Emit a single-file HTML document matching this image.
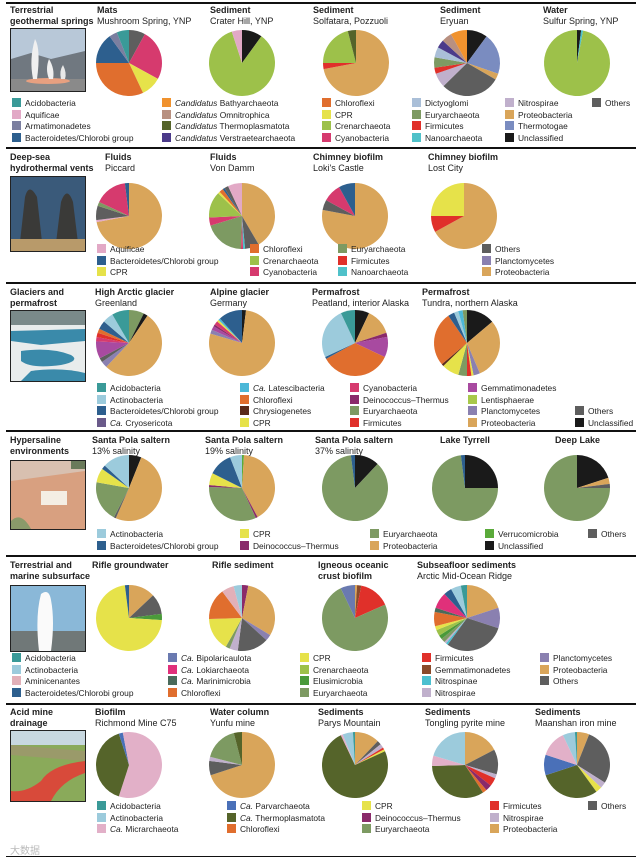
<!DOCTYPE html>
<html><head><meta charset="utf-8">
<style>
body{margin:0;background:#fff;}
#root{position:relative;width:642px;height:862px;overflow:hidden;background:#fff;font-family:"Liberation Sans","Noto Sans CJK SC",sans-serif;color:#222;}
.sec-title{position:absolute;font-weight:bold;font-size:9px;line-height:11px;}
.pie-title{position:absolute;font-size:9px;line-height:11px;white-space:nowrap;}
.pie-title b{font-weight:bold;}
.rule{position:absolute;left:6px;width:630px;height:2px;background:#111;}
.leg{position:absolute;font-size:8.4px;line-height:10px;white-space:nowrap;}
.sw{display:inline-block;width:9px;height:9px;vertical-align:-1px;margin-right:4px;}
.illu{position:absolute;border:1px solid #222;}
</style></head>
<body>
<div id="root">
<svg id="pies" width="642" height="862" style="position:absolute;left:0;top:0"></svg>

<div class="rule" style="top:2px"></div>
<div class="rule" style="top:147px"></div>
<div class="rule" style="top:282px"></div>
<div class="rule" style="top:430px"></div>
<div class="rule" style="top:555px"></div>
<div class="rule" style="top:703px"></div>
<div class="rule" style="top:856px;height:1px"></div>

<div class="sec-title" style="left:10px;top:5px">Terrestrial<br>geothermal springs</div>
<div class="sec-title" style="left:10px;top:152px">Deep-sea<br>hydrothermal vents</div>
<div class="sec-title" style="left:10px;top:287px">Glaciers and<br>permafrost</div>
<div class="sec-title" style="left:10px;top:435px">Hypersaline<br>environments</div>
<div class="sec-title" style="left:10px;top:560px">Terrestrial and<br>marine subsurface</div>
<div class="sec-title" style="left:10px;top:707px">Acid mine<br>drainage</div>

<svg class="illu" style="left:10px;top:28px" width="74" height="62"><rect width="74" height="62" fill="#b8c8d8"/><path d="M0 30 L20 24 L40 30 L74 22 L74 62 L0 62Z" fill="#707880"/><rect x="0" y="50" width="74" height="12" fill="#8a8a8a"/><ellipse cx="37" cy="52" rx="22" ry="3" fill="#e8a080"/><path d="M22 50 Q18 30 24 10 Q30 20 26 50Z" fill="#f0f0f0"/><path d="M38 50 Q34 40 38 30 Q44 40 42 50Z" fill="#f0f0f0"/><path d="M50 50 Q48 42 52 36 Q56 44 54 50Z" fill="#e8e8e8"/></svg>
<svg class="illu" style="left:10px;top:176px" width="74" height="74"><rect width="74" height="74" fill="#3a5a7a"/><path d="M8 74 L14 20 Q18 5 26 20 L32 74Z" fill="#3a3a38"/><path d="M44 74 L50 25 Q56 8 62 25 L68 74Z" fill="#3a3a38"/><rect y="62" width="74" height="12" fill="#b89a6a"/></svg>
<svg class="illu" style="left:10px;top:310px" width="74" height="70"><rect width="74" height="70" fill="#e8ecec"/><rect width="74" height="14" fill="#7a8a8a"/><path d="M0 20 L74 18 L74 30 L30 34 L0 30Z" fill="#3a8aaa"/><path d="M10 40 Q40 36 60 44 Q70 50 50 54 Q20 58 10 50Z" fill="#3a8aaa"/><path d="M20 60 Q50 56 74 62 L74 70 L10 70Z" fill="#3a8aaa"/></svg>
<svg class="illu" style="left:10px;top:460px" width="74" height="68"><rect width="74" height="68" fill="#d8c0b0"/><path d="M0 20 L74 10 L74 68 L0 68Z" fill="#d8a080"/><rect x="30" y="30" width="26" height="14" fill="#f4eee4"/><path d="M0 60 Q10 50 20 68 L0 68Z" fill="#8a9a6a"/><rect x="60" y="0" width="14" height="8" fill="#6a7a5a"/></svg>
<svg class="illu" style="left:10px;top:585px" width="74" height="65"><rect width="74" height="65" fill="#8ab8d8"/><rect y="45" width="74" height="20" fill="#707878"/><path d="M28 65 Q24 30 30 8 Q38 2 40 14 Q44 35 40 65Z" fill="#fafafa"/></svg>
<svg class="illu" style="left:10px;top:730px" width="74" height="70"><rect width="74" height="70" fill="#8aaa5a"/><rect width="74" height="14" fill="#c8d8e0"/><path d="M0 14 L74 20 L74 30 L0 24Z" fill="#9a9a6a"/><path d="M74 30 Q40 34 30 50 Q15 62 0 60 L0 70 L40 70 Q50 50 74 42Z" fill="#d84a3a"/></svg>

<div id="texts"></div>
<div style="position:absolute;left:10px;top:842px;font-size:10px;color:#bbb">大数据</div>
</div>
<script>
const colors={Acido:"#3a9a98",Aqui:"#e2a9c6",Armat:"#7b7fa0",Bact:"#2d5f8e",Bathy:"#f0922e",Omni:"#b89080",Tpl:"#55642a",Verst:"#4b3a8a",Chlf:"#e06e2e",CPR:"#e6e24a",Cren:"#9dc14a",Cyano:"#d63a6e",Dict:"#aabfd8",Eury:"#7d9a62",Firm:"#e0302a",Nano:"#4fc1c9",Nitro:"#c0b0cc",Proteo:"#d9a55a",Tmtg:"#7a8cc0",Uncl:"#1a1a1a",Oth:"#5e5e5e",Actino:"#9ccbdc",Lates:"#4cb8d8",Chrys:"#5a2a1a",Cryo:"#6a5a8a",Deino:"#8a2a6a",Gemm:"#a84aa0",Lent:"#a8c84a",Planc:"#8a80b0",Verru:"#5aaa3a",Bipol:"#6a7ab0",Loki:"#e0307a",Marin:"#4a6a5a",Amini:"#e2b0b8",Elusi:"#4a9a3a",Gemm2:"#8a4a2a",Nspin:"#4cc0d0",Parv:"#4a70b8",Micr:"#e2b0c8"};

// pie data: category arrays and value arrays
const matsCats=["Oth","Cyano","CPR","Chlf","Bact","Armat","Acido"];
const matsVals=[8,25,10,32,15,4,6];
const craterCats=["Uncl","Cren","Aqui"];
const craterVals=[10,85,5];
const solfCats=["Proteo","Firm","Cren","Tpl"];
const solfVals=[72,3,21,4];
const eryuanCats=["Uncl","Tmtg","Proteo","Oth","Nitro","Firm","Eury","Dict","Verst","Omni","Bathy"];
const eryuanVals=[10,20,3,29,7,3,5,5,4,5,8];
const waterCats=["Uncl","Nano","Cren"];
const waterVals=[2,1,97];
const piccardCats=["Proteo","Aqui","Oth","Eury","Cyano","Bact"];
const piccardVals=[72,1,7,2,16,2];
const vondammCats=["Proteo","Oth","Nano","Cyano","Eury","Cyano","Cren","CPR","Chlf","Bact","Oth","Aqui"];
const vondammVals=[42,7,1,1,20,4,13,1,2,1,2,7];
const lokiCats=["Proteo","Oth","Cyano","Bact"];
const lokiVals=[78,5,9,8];
const lostCats=["Proteo","Firm","CPR"];
const lostVals=[67,8,25];
const arcticCats=["Eury","Uncl","Proteo","Planc","Oth","Gemm","Cyano","Firm","Chlf","Bact","Actino","Acido"];
const arcticVals=[7,2,50,3,2,8,2,2,2,4,5,8];
const alpineCats=["Uncl","Proteo","Planc","Gemm","Deino","Cyano","CPR","Lates","Bact"];
const alpineVals=[2,80,2,2,1,2,1,1,12];
const peatCats=["Uncl","Proteo","Deino","Gemm","Chlf","Bact","Actino","Acido"];
const peatVals=[7,13,2,10,35,1,25,7];
const tundraCats=["Uncl","Proteo","Planc","CPR","Firm","Eury","CPR","Chrys","Chlf","Bact","Actino","Lates","Eury"];
const tundraVals=[13,28,3,1,2,4,8,1,25,3,2,2,2];
const sp13Cats=["Uncl","Proteo","Oth","Eury","CPR","Bact","Actino"];
const sp13Vals=[6,50,1,20,7,2,13];
const sp19Cats=["Verru","Proteo","Deino","Eury","Deino","CPR","Bact","Actino"];
const sp19Vals=[1,42,1,33,1,6,12,6];
const sp37Cats=["Uncl","Eury","Bact"];
const sp37Vals=[12,86,2];
const tyrrellCats=["Uncl","Eury","Bact"];
const tyrrellVals=[25,73,2];
const deepCats=["Uncl","Proteo","Oth","Eury"];
const deepVals=[20,3,2,75];
const rgwCats=["Proteo","Oth","Elusi","CPR","Bact"];
const rgwVals=[13,10,3,72,2];
const rsedCats=["Deino","Proteo","Planc","Oth","Nitro","Eury","CPR","Chlf","Amini","Actino"];
const rsedVals=[3,30,3,15,4,2,16,15,6,4];
const ignCats=["Proteo","Gemm2","Firm","Eury","Bipol"];
const ignVals=[1,2,15,73,7];
const subCats=["Proteo","Planc","Oth","Nspin","Nitro","Eury","Elusi","Cren","CPR","Chlf","Marin","Loki","Bact","Actino","Acido"];
const subVals=[20,10,30,1,1,2,2,3,2,7,2,8,4,5,3];
const rmCats=["Micr","Tpl","Parv","Micr"];
const rmVals=[55,40,2,3];
const yunfuCats=["Proteo","Oth","Nitro","Eury","Tpl"];
const yunfuVals=[70,7,2,17,4];
const parysCats=["Proteo","Oth","Nitro","Firm","CPR","Tpl","Micr","Actino","Acido"];
const parysVals=[12,2,2,1,1,74,1,5,1];
const tonglingCats=["Proteo","Oth","Nitro","Firm","Deino","Chlf","Tpl","Micr","Actino"];
const tonglingVals=[17,12,2,4,3,2,33,5,20];
const maanCats=["Proteo","Oth","Nitro","CPR","Tpl","Parv","Micr","Actino","Acido"];
const maanVals=[6,28,3,3,30,10,13,6,1];

const pies=[
 {n:"mats",c:matsCats,v:matsVals,x:129,y:63,t:"Mats",s:"Mushroom Spring, YNP",tx:97,ty:5},
 {n:"crater-hill",c:craterCats,v:craterVals,x:242,y:63,t:"Sediment",s:"Crater Hill, YNP",tx:210,ty:5},
 {n:"solfatara",c:solfCats,v:solfVals,x:356,y:63,t:"Sediment",s:"Solfatara, Pozzuoli",tx:313,ty:5},
 {n:"eryuan",c:eryuanCats,v:eryuanVals,x:467,y:63,t:"Sediment",s:"Eryuan",tx:440,ty:5},
 {n:"sulfur-spring",c:waterCats,v:waterVals,x:577,y:63,t:"Water",s:"Sulfur Spring, YNP",tx:543,ty:5},
 {n:"piccard",c:piccardCats,v:piccardVals,x:129,y:216,t:"Fluids",s:"Piccard",tx:105,ty:152},
 {n:"von-damm",c:vondammCats,v:vondammVals,x:242,y:216,t:"Fluids",s:"Von Damm",tx:210,ty:152},
 {n:"lokis-castle",c:lokiCats,v:lokiVals,x:355,y:216,t:"Chimney biofilm",s:"Loki's Castle",tx:313,ty:152},
 {n:"lost-city",c:lostCats,v:lostVals,x:464,y:216,t:"Chimney biofilm",s:"Lost City",tx:428,ty:152},
 {n:"high-arctic-glacier",c:arcticCats,v:arcticVals,x:129,y:343,t:"High Arctic glacier",s:"Greenland",tx:95,ty:287},
 {n:"alpine-glacier",c:alpineCats,v:alpineVals,x:242,y:343,t:"Alpine glacier",s:"Germany",tx:210,ty:287},
 {n:"permafrost-peatland",c:peatCats,v:peatVals,x:355,y:343,t:"Permafrost",s:"Peatland, interior Alaska",tx:312,ty:287},
 {n:"permafrost-tundra",c:tundraCats,v:tundraVals,x:467,y:343,t:"Permafrost",s:"Tundra, northern Alaska",tx:422,ty:287},
 {n:"santa-pola-13",c:sp13Cats,v:sp13Vals,x:129,y:488,t:"Santa Pola saltern",s:"13% salinity",tx:92,ty:435},
 {n:"santa-pola-19",c:sp19Cats,v:sp19Vals,x:242,y:488,t:"Santa Pola saltern",s:"19% salinity",tx:205,ty:435},
 {n:"santa-pola-37",c:sp37Cats,v:sp37Vals,x:355,y:488,t:"Santa Pola saltern",s:"37% salinity",tx:315,ty:435},
 {n:"lake-tyrrell",c:tyrrellCats,v:tyrrellVals,x:465,y:488,t:"Lake Tyrrell",s:"",tx:440,ty:435},
 {n:"deep-lake",c:deepCats,v:deepVals,x:577,y:488,t:"Deep Lake",s:"",tx:555,ty:435},
 {n:"rifle-groundwater",c:rgwCats,v:rgwVals,x:129,y:618,t:"Rifle groundwater",s:"",tx:92,ty:560},
 {n:"rifle-sediment",c:rsedCats,v:rsedVals,x:242,y:618,t:"Rifle sediment",s:"",tx:212,ty:560},
 {n:"igneous-crust",c:ignCats,v:ignVals,x:355,y:618,t:"Igneous oceanic",s:"crust biofilm",tx:318,ty:560,sb:true},
 {n:"subseafloor",c:subCats,v:subVals,x:467,y:618,t:"Subseafloor sediments",s:"Arctic Mid-Ocean Ridge",tx:417,ty:560},
 {n:"richmond-mine",c:rmCats,v:rmVals,x:129,y:765,t:"Biofilm",s:"Richmond Mine C75",tx:95,ty:707},
 {n:"yunfu-mine",c:yunfuCats,v:yunfuVals,x:242,y:765,t:"Water column",s:"Yunfu mine",tx:210,ty:707},
 {n:"parys-mountain",c:parysCats,v:parysVals,x:355,y:765,t:"Sediments",s:"Parys Mountain",tx:318,ty:707},
 {n:"tongling-mine",c:tonglingCats,v:tonglingVals,x:465,y:765,t:"Sediments",s:"Tongling pyrite mine",tx:425,ty:707},
 {n:"maanshan-mine",c:maanCats,v:maanVals,x:577,y:765,t:"Sediments",s:"Maanshan iron mine",tx:535,ty:707}
];
const R=33;
const svg=document.getElementById('pies');
const NS="http://www.w3.org/2000/svg";
function ang(frac){return frac*2*Math.PI-Math.PI/2;}
pies.forEach(p=>{
  const tot=p.v.reduce((a,b)=>a+b,0);
  let acc=0;
  const g=document.createElementNS(NS,'g');
  
  
  p.v.forEach((val,i)=>{
    const a0=ang(acc/tot),a1=ang((acc+val)/tot);acc+=val;
    const large=(a1-a0)>Math.PI?1:0;
    const path=document.createElementNS(NS,'path');
    const d=(val/tot>=0.9999)?`M${p.x-R} ${p.y}A${R} ${R} 0 1 1 ${p.x+R} ${p.y}A${R} ${R} 0 1 1 ${p.x-R} ${p.y}Z`:
      `M${p.x} ${p.y}L${p.x+R*Math.cos(a0)} ${p.y+R*Math.sin(a0)}A${R} ${R} 0 ${large} 1 ${p.x+R*Math.cos(a1)} ${p.y+R*Math.sin(a1)}Z`;
    path.setAttribute('d',d);
    path.setAttribute('fill',colors[p.c[i]]);
    
    
    g.appendChild(path);
  });
  svg.appendChild(g);
  const t=document.createElement('div');
  t.className='pie-title';
  t.style.left=p.tx+'px';t.style.top=p.ty+'px';
  t.innerHTML='<b>'+p.t+'</b>'+(p.s?'<br>'+(p.sb?'<b>'+p.s+'</b>':p.s):'');
  
  
  document.getElementById('texts').appendChild(t);
});

// legends: columns of [label, colorKey]
const legends=[
 {n:"geothermal",top:98,xs:[12,162,322,412,505,592],cols:[
  [["Acidobacteria","Acido"],["Aquificae","Aqui"],["Armatimonadetes","Armat"],["Bacteroidetes/Chlorobi group","Bact"]],
  [["<i>Candidatus</i> Bathyarchaeota","Bathy"],["<i>Candidatus</i> Omnitrophica","Omni"],["<i>Candidatus</i> Thermoplasmatota","Tpl"],["<i>Candidatus</i> Verstraetearchaeota","Verst"]],
  [["Chloroflexi","Chlf"],["CPR","CPR"],["Crenarchaeota","Cren"],["Cyanobacteria","Cyano"]],
  [["Dictyoglomi","Dict"],["Euryarchaeota","Eury"],["Firmicutes","Firm"],["Nanoarchaeota","Nano"]],
  [["Nitrospirae","Nitro"],["Proteobacteria","Proteo"],["Thermotogae","Tmtg"],["Unclassified","Uncl"]],
  [["Others","Oth"]]]},
 {n:"vents",top:244,xs:[97,250,338,482],cols:[
  [["Aquificae","Aqui"],["Bacteroidetes/Chlorobi group","Bact"],["CPR","CPR"]],
  [["Chloroflexi","Chlf"],["Crenarchaeota","Cren"],["Cyanobacteria","Cyano"]],
  [["Euryarchaeota","Eury"],["Firmicutes","Firm"],["Nanoarchaeota","Nano"]],
  [["Others","Oth"],["Planctomycetes","Planc"],["Proteobacteria","Proteo"]]]},
 {n:"glaciers",top:383,xs:[97,240,350,468,575],cols:[
  [["Acidobacteria","Acido"],["Actinobacteria","Actino"],["Bacteroidetes/Chlorobi group","Bact"],["<i>Ca.</i> Cryosericota","Cryo"]],
  [["<i>Ca.</i> Latescibacteria","Lates"],["Chloroflexi","Chlf"],["Chrysiogenetes","Chrys"],["CPR","CPR"]],
  [["Cyanobacteria","Cyano"],["Deinococcus–Thermus","Deino"],["Euryarchaeota","Eury"],["Firmicutes","Firm"]],
  [["Gemmatimonadetes","Gemm"],["Lentisphaerae","Lent"],["Planctomycetes","Planc"],["Proteobacteria","Proteo"]],
  [null,null,["Others","Oth"],["Unclassified","Uncl"]]]},
 {n:"hypersaline",top:529,xs:[97,240,370,485,588],cols:[
  [["Actinobacteria","Actino"],["Bacteroidetes/Chlorobi group","Bact"]],
  [["CPR","CPR"],["Deinococcus–Thermus","Deino"]],
  [["Euryarchaeota","Eury"],["Proteobacteria","Proteo"]],
  [["Verrucomicrobia","Verru"],["Unclassified","Uncl"]],
  [["Others","Oth"]]]},
 {n:"subsurface",top:653,xs:[12,168,300,422,540],cols:[
  [["Acidobacteria","Acido"],["Actinobacteria","Actino"],["Aminicenantes","Amini"],["Bacteroidetes/Chlorobi group","Bact"]],
  [["<i>Ca.</i> Bipolaricaulota","Bipol"],["<i>Ca.</i> Lokiarchaeota","Loki"],["<i>Ca.</i> Marinimicrobia","Marin"],["Chloroflexi","Chlf"]],
  [["CPR","CPR"],["Crenarchaeota","Cren"],["Elusimicrobia","Elusi"],["Euryarchaeota","Eury"]],
  [["Firmicutes","Firm"],["Gemmatimonadetes","Gemm2"],["Nitrospinae","Nspin"],["Nitrospirae","Nitro"]],
  [["Planctomycetes","Planc"],["Proteobacteria","Proteo"],["Others","Oth"]]]},
 {n:"acid-mine",top:801,xs:[97,227,362,490,588],cols:[
  [["Acidobacteria","Acido"],["Actinobacteria","Actino"],["<i>Ca.</i> Micrarchaeota","Micr"]],
  [["<i>Ca.</i> Parvarchaeota","Parv"],["<i>Ca.</i> Thermoplasmatota","Tpl"],["Chloroflexi","Chlf"]],
  [["CPR","CPR"],["Deinococcus–Thermus","Deino"],["Euryarchaeota","Eury"]],
  [["Firmicutes","Firm"],["Nitrospirae","Nitro"],["Proteobacteria","Proteo"]],
  [["Others","Oth"]]]}
];
const texts=document.getElementById('texts');
legends.forEach(L=>{
  L.cols.forEach((col,ci)=>{
    col.forEach((item,ri)=>{
      if(!item)return;
      const d=document.createElement('div');
      d.className='leg';
      d.style.left=L.xs[ci]+'px';
      d.style.top=(L.top+ri*11.7)+'px';
      d.innerHTML='<span class="sw" style="background:'+colors[item[1]]+'"></span>'+item[0];
      
      
      texts.appendChild(d);
    });
  });
});
</script>
</body></html>
